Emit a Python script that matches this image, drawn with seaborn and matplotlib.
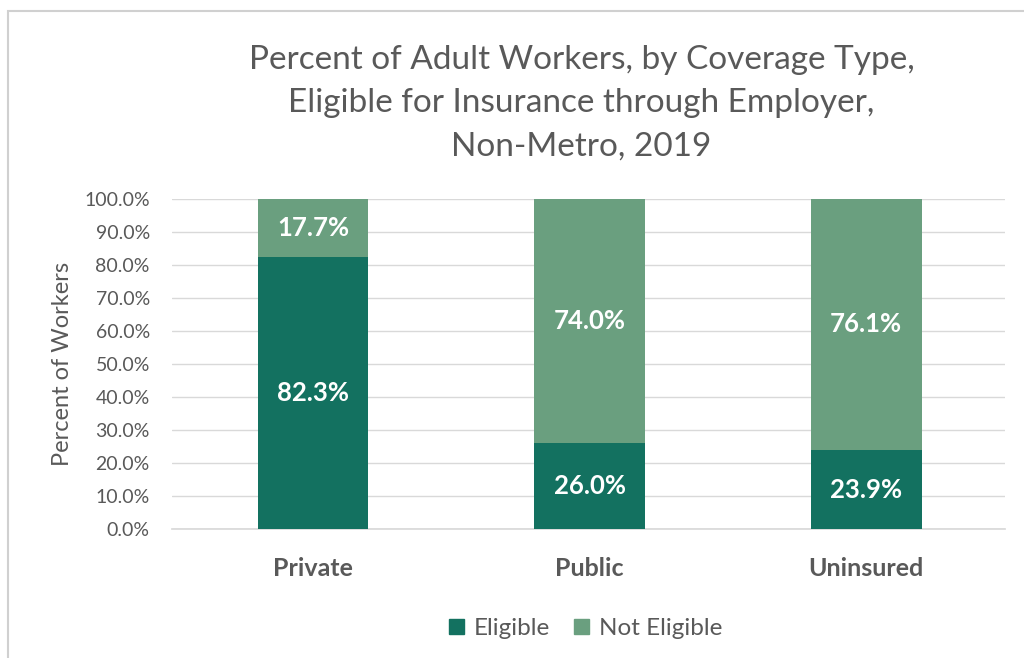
import matplotlib
matplotlib.use("Agg")
import matplotlib.pyplot as plt
import seaborn as sns
import pandas as pd
from matplotlib.patches import Patch, Rectangle
from matplotlib.ticker import FuncFormatter, MultipleLocator

categories = ["Private", "Public", "Uninsured"]
eligible = [82.3, 26.0, 23.9]
not_eligible = [17.7, 74.0, 76.1]
series_names = ["Eligible", "Not Eligible"]

dark = "#137160"
light = "#6a9f7f"
gray = "#595959"

sns.set_theme(style="white")
plt.rcParams["font.family"] = ["Lato", "DejaVu Sans"]

df = pd.DataFrame({"cat": categories, "elig": eligible, "not": not_eligible})
df["total"] = df["elig"] + df["not"]

fig = plt.figure(figsize=(10.24, 6.58), dpi=100)
ax = fig.add_axes([0.168, 0.196, 0.813, 0.502])

sns.barplot(data=df, x="cat", y="total", color=light, width=0.4, ax=ax,
            saturation=1, zorder=2, linewidth=0)
sns.barplot(data=df, x="cat", y="elig", color=dark, width=0.4, ax=ax,
            saturation=1, zorder=3, linewidth=0)

for i, (e, n) in enumerate(zip(eligible, not_eligible)):
    ax.text(i, e / 2, f"{e:.1f}%", ha="center", va="center", color="white",
            fontsize=18.5, fontweight="bold", zorder=4)
    ax.text(i, e + n / 2, f"{n:.1f}%", ha="center", va="center", color="white",
            fontsize=18.5, fontweight="bold", zorder=4)

ax.set_xlim(-0.51, 2.5)
ax.set_ylim(0, 100)
ax.yaxis.set_major_locator(MultipleLocator(10))
ax.yaxis.set_major_formatter(FuncFormatter(lambda v, p: f"{v:.1f}%"))
ax.grid(axis="y", color="#d9d9d9", linewidth=1, zorder=0)
ax.set_axisbelow(True)
for s in ["top", "right", "left"]:
    ax.spines[s].set_visible(False)
ax.spines["bottom"].set_color("#d9d9d9")
ax.tick_params(axis="y", labelsize=14, labelcolor=gray, length=0, pad=16)
ax.tick_params(axis="x", labelsize=18, labelcolor=gray, length=0, pad=20)
for lbl in ax.get_xticklabels():
    lbl.set_fontweight("bold")
ax.set_xlabel("")
ax.set_ylabel("Percent of Workers", fontsize=17, color=gray, labelpad=8)

fig.text(0.568, 0.843, "Percent of Adult Workers, by Coverage Type,\nEligible for Insurance through Employer,\nNon-Metro, 2019",
         ha="center", va="center", fontsize=24, color=gray, linespacing=1.55)

handles = [Patch(color=dark, label=series_names[0]),
           Patch(color=light, label=series_names[1])]
fig.legend(handles=handles, loc="center", bbox_to_anchor=(0.572, 0.045), ncol=2,
           frameon=False, fontsize=17.5, labelcolor=gray, handlelength=0.6,
           handleheight=0.6, handletextpad=0.4, columnspacing=1.0)

fig.patches.append(Rectangle((0.008, -0.02), 1.1, 1.0 - 0.016 + 0.02,
                             transform=fig.transFigure, fill=False,
                             edgecolor="#d0d0d0", linewidth=1.5))

fig.savefig("out.png", dpi=100)
